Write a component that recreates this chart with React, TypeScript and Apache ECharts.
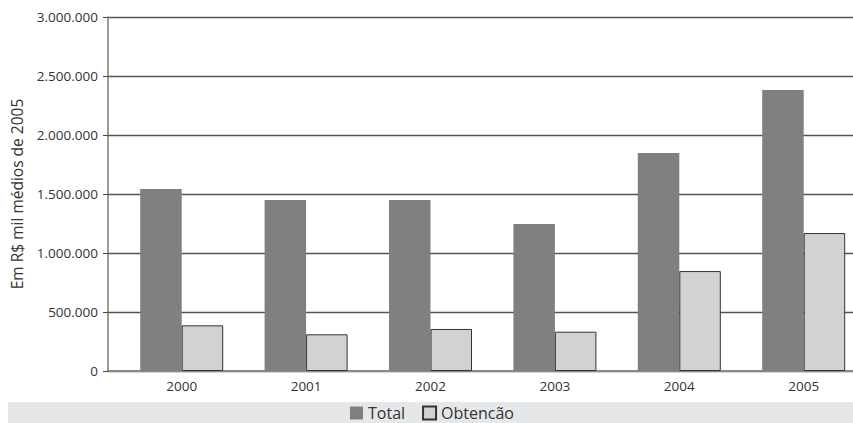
import React, { useEffect, useRef } from "react";
import * as echarts from "echarts";

const years = ["2000", "2001", "2002", "2003", "2004", "2005"];
const totalValues = [1542000, 1449000, 1449000, 1246000, 1847000, 2381000];
const obtencaoValues = [387000, 311000, 356000, 333000, 847000, 1169000];
const yMax = 3000000;
const yStep = 500000;
const yTitle = "Em R$ mil médios de 2005";

const FONT = "'Open Sans', 'Noto Sans', sans-serif";

const fmt = (v: number) => String(v).replace(/\B(?=(\d{3})+(?!\d))/g, ".");

export default function App() {
  const ref = useRef<HTMLDivElement>(null);

  useEffect(() => {
    if (!ref.current) return;
    const chart = echarts.init(ref.current, null, { renderer: "svg" });
    chart.setOption({
      animation: false,
      backgroundColor: "#ffffff",
      textStyle: { fontFamily: FONT },
      graphic: [
        {
          type: "rect",
          shape: { x: 8, y: 402, width: 845, height: 21 },
          style: { fill: "#e6e7e8" },
          z: -1,
        },
      ],
      legend: {
        left: 350,
        top: 405,
        padding: 0,
        itemWidth: 13,
        itemHeight: 13,
        itemGap: 17,
        icon: "rect",
        textStyle: { fontSize: 16, lineHeight: 14, color: "#333", fontFamily: FONT },
        data: ["Total", "Obtencao"],
        formatter: (n: string) => (n === "Obtencao" ? "Obtencão" : n),
      },
      grid: [
        { left: 108, right: 0, top: 17, bottom: 52, outerBoundsMode: "none" },
        { left: 119.5, width: 746.4, top: 17, bottom: 52, outerBoundsMode: "none" },
      ],
      xAxis: [
        {
          gridIndex: 0,
          type: "value",
          min: 0,
          max: 1,
          axisLine: { show: true, lineStyle: { color: "#8a8a8a", width: 2 } },
          axisTick: { show: false },
          axisLabel: { show: false },
          splitLine: { show: false },
        },
        {
          gridIndex: 1,
          type: "category",
          data: years,
          axisLine: { show: false },
          axisTick: { show: false },
          axisLabel: { color: "#333", fontSize: 13.5, margin: 8, fontFamily: FONT },
        },
      ],
      yAxis: [
        {
          gridIndex: 0,
          type: "value",
          min: 0,
          max: yMax,
          interval: yStep,
          name: yTitle,
          nameLocation: "middle",
          nameRotate: 90,
          nameGap: 83,
          nameTextStyle: { fontSize: 15.5, color: "#333", fontFamily: FONT },
          axisLine: { show: true, lineStyle: { color: "#7a7a7a", width: 1.5 } },
          axisTick: { show: true, length: 5, lineStyle: { color: "#444" } },
          axisLabel: { color: "#333", fontSize: 13.5, margin: 10, formatter: fmt, fontFamily: FONT },
          splitLine: { show: true, lineStyle: { color: "#555", width: 1.3 } },
        },
        {
          gridIndex: 1,
          type: "value",
          min: 0,
          max: yMax,
          interval: yStep,
          show: false,
          splitLine: { show: false },
        },
      ],
      series: [
        {
          name: "Total",
          type: "bar",
          xAxisIndex: 1,
          yAxisIndex: 1,
          data: totalValues,
          barWidth: 41.5,
          barGap: "0%",
          itemStyle: { color: "#808083" },
        },
        {
          name: "Obtencao",
          type: "bar",
          xAxisIndex: 1,
          yAxisIndex: 1,
          data: obtencaoValues,
          barWidth: 41.5,
          barGap: "0%",
          itemStyle: { color: "#d1d2d4", borderColor: "#333", borderWidth: 1 },
        },
      ],
    });
    return () => chart.dispose();
  }, []);

  return (
    <div
      ref={ref}
      style={{ position: "absolute", left: 0, top: 0, width: 853, height: 423 }}
    />
  );
}
